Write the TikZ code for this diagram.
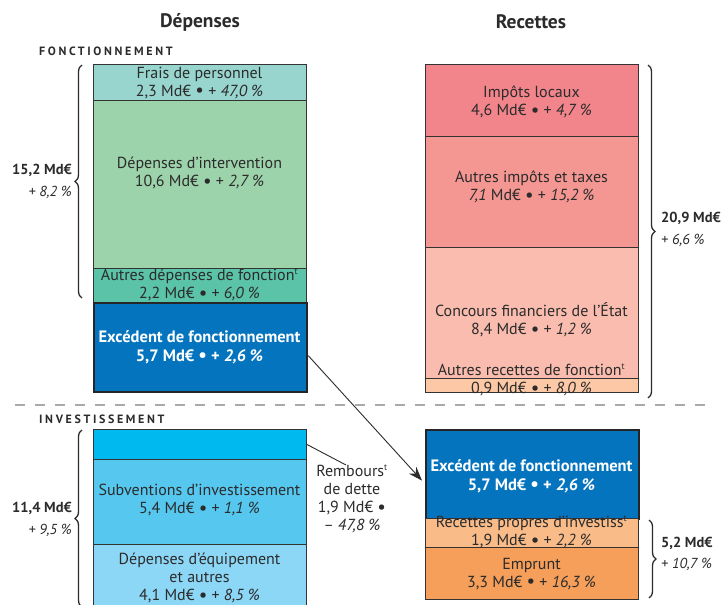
\documentclass[tikz,border=0pt]{standalone}
\usepackage{fontspec}
\setmainfont{PT Sans}
\usetikzlibrary{arrows.meta,decorations.pathreplacing}
\definecolor{ink}{HTML}{2B2B2B}
\definecolor{edge}{HTML}{333333}
\definecolor{cFrais}{HTML}{98D5CF}
\definecolor{cInterv}{HTML}{9DD3AB}
\definecolor{cAutDep}{HTML}{5BC3A7}
\definecolor{cExc}{HTML}{0474BF}
\definecolor{cCyan}{HTML}{00B9EF}
\definecolor{cSubv}{HTML}{56C8F0}
\definecolor{cEquip}{HTML}{8DD7F6}
\definecolor{cImp}{HTML}{F2858B}
\definecolor{cAutImp}{HTML}{F49792}
\definecolor{cConc}{HTML}{F9BCAE}
\definecolor{cAutRec}{HTML}{FDC8A5}
\definecolor{cRecProp}{HTML}{F9BB88}
\definecolor{cEmp}{HTML}{F59F5A}
\definecolor{cDash}{HTML}{A7A9AC}
\newcommand{\sexp}{\textsuperscript{\fontsize{9}{9}\selectfont t}}
\newcommand{\bul}{{\fontsize{19}{18}\selectfont\raisebox{-0.5pt}{•}}}
\begin{document}
\begin{tikzpicture}[x=1pt,y=-1pt,
  box/.style={draw=edge, line width=0.8pt, minimum width=213pt, inner sep=0pt, anchor=north west},
  exbox/.style={box, fill=cExc, draw=black!85, line width=2.2pt},
  txt/.style={align=center, font=\fontsize{16}{18}\selectfont, text=ink, inner sep=0pt},
  wtxt/.style={align=center, font=\fontsize{16.5}{19}\selectfont\bfseries, text=white, inner sep=0pt},
  title/.style={font=\fontsize{19.5}{22}\selectfont\bfseries, text=ink, inner sep=0pt},
  section/.style={font=\fontsize{12}{13}\selectfont\bfseries\addfontfeature{LetterSpace=22}, text=ink, inner sep=0pt},
  sidel/.style={font=\fontsize{14.5}{16}\selectfont\bfseries, text=ink, inner sep=0pt},
  sidep/.style={font=\fontsize{14.5}{16}\selectfont\itshape, text=ink, inner sep=0pt},
  bracestyle/.style={decorate, decoration={brace, amplitude=7pt}, line width=1.3pt, draw=ink},
]
\useasboundingbox (0,0) rectangle (723,605);

% titles
\node[title] (tDep) at (200,22) {Dépenses};
\node[title] (tRec) at (531,22) {Recettes};
\node[section, anchor=west] (tFonc) at (39,51) {FONCTIONNEMENT};
\node[section, anchor=west] (tInv) at (39,419) {INVESTISSEMENT};

% separator
\coordinate (sepL) at (15,405);
\coordinate (sepR) at (712,405);
\draw[cDash, line width=2.3pt, dash pattern=on 10pt off 10pt] (sepL) -- (sepR);

% left top column
\node[box, fill=cFrais, minimum height=36pt] (frais) at (93,64) {};
\node[box, fill=cInterv, minimum height=168pt] (interv) at (93,100) {};
\node[box, fill=cAutDep, minimum height=34pt] (autdep) at (93,268) {};
\node[exbox, minimum height=89pt] (excL) at (93,302) {};
\node[txt] (fraisT) at (199.5,83) {Frais de personnel\\2,3 Md€ \bul{} + \textit{47,0 \%}};
\node[txt] (intervT) at (199.5,173) {Dépenses d’intervention\\10,6 Md€ \bul{} + \textit{2,7 \%}};
\node[txt] (autdepT) at (199.5,285) {Autres dépenses de fonction\sexp\\2,2 Md€ \bul{} + \textit{6,0 \%}};
\node[wtxt] (excLT) at (199.5,347) {Excédent de fonctionnement\\5,7 Md€ \bul{} + \textit{2,6 \%}};

% left bottom column
\node[box, fill=cCyan, minimum height=30pt] (cyan) at (93,429) {};
\node[box, fill=cSubv, minimum height=85pt] (subv) at (93,459) {};
\node[box, fill=cEquip, minimum height=70pt] (equip) at (93,544) {};
\node[txt] (subvT) at (199.5,500) {Subventions d’investissement\\5,4 Md€ \bul{} + \textit{1,1 \%}};
\node[txt] (equipT) at (199.5,578) {Dépenses d’équipement\\et autres\\4,1 Md€ \bul{} + \textit{8,5 \%}};

% right top column
\node[box, fill=cImp, minimum height=72pt] (imp) at (425,64) {};
\node[box, fill=cAutImp, minimum height=111pt] (autimp) at (425,136) {};
\node[box, fill=cConc, minimum height=131pt] (conc) at (425,247) {};
\node[box, fill=cAutRec, minimum height=14pt] (autrec) at (425,378) {};
\node[txt] (impT) at (531.5,102) {Impôts locaux\\4,6 Md€ \bul{} + \textit{4,7 \%}};
\node[txt] (autimpT) at (531.5,187) {Autres impôts et taxes\\\textit{7,1} Md€ \bul{} + \textit{15,2 \%}};
\node[txt] (concT) at (531.5,320) {Concours financiers de l’État\\8,4 Md€ \bul{} + \textit{1,2 \%}};
\node[txt] (autrecT) at (531.5,380) {Autres recettes de fonction\sexp\\0,9 Md€ \bul{} + \textit{8,0 \%}};

% right bottom column
\node[exbox, minimum height=89pt] (excR) at (425,429) {};
\node[box, fill=cRecProp, minimum height=29pt] (recprop) at (425,518) {};
\node[box, fill=cEmp, minimum height=52pt] (emp) at (425,547) {};
\node[wtxt] (excRT) at (531.5,476) {Excédent de fonctionnement\\5,7 Md€ \bul{} + \textit{2,6 \%}};
\node[txt] (recpropT) at (531.5,532) {Recettes propres d’investiss\sexp\\1,9 Md€ \bul{} + \textit{2,2 \%}};
\node[txt] (empT) at (531.5,574) {Emprunt\\3,3 Md€ \bul{} + \textit{16,3 \%}};

% remboursement
\node[txt] (rembT) at (352,499) {Rembours\sexp\\de dette\\1,9 Md€ \bul\\\textit{– 47,8 \%}};
\coordinate (rbEnd) at (346,465);
\draw[ink, line width=0.9pt] (cyan.east) -- (rbEnd);

% arrow
\draw[ink, line width=0.9pt, -{Stealth[length=14pt,width=10pt]}] ([yshift=-8pt]excL.east) -- ([yshift=-6pt,xshift=-3pt]excR.west);

% braces and totals
\draw[bracestyle] (82,298) -- (82,65);
\node[sidel, anchor=east] (s1a) at (72,170) {15,2 Md€};
\node[sidep, anchor=east] (s1b) at (72,192) {+ 8,2 \%};
\draw[bracestyle] (82,607) -- (82,430);
\node[sidel, anchor=east] (s2a) at (72,508) {11,4 Md€};
\node[sidep, anchor=east] (s2b) at (72,530) {+ 9,5 \%};
\draw[bracestyle] (648,65) -- (648,398);
\node[sidel, anchor=west] (s3a) at (661,218) {20,9 Md€};
\node[sidep, anchor=west] (s3b) at (661,240) {+ 6,6 \%};
\draw[bracestyle] (649,520) -- (649,598);
\node[sidel, anchor=west] (s4a) at (661,543) {5,2 Md€};
\node[sidep, anchor=west] (s4b) at (661,564) {+ 10,7 \%};
\end{tikzpicture}
\end{document}
